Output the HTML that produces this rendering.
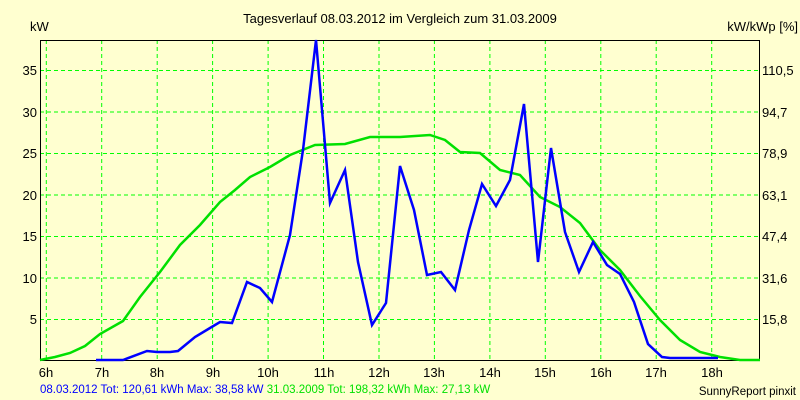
<!DOCTYPE html><html><head><style>body{margin:0;background:#ffffd0}svg{display:block}text{font-family:"Liberation Sans",sans-serif;font-size:13px;fill:#000}</style></head><body>
<svg width="800" height="400" xmlns="http://www.w3.org/2000/svg">
<rect width="800" height="400" fill="#ffffd0"/>
<g stroke="#00ff00" stroke-width="1" stroke-dasharray="4,3">
<line x1="46.3" y1="40" x2="46.3" y2="360"/><line x1="101.7" y1="40" x2="101.7" y2="360"/><line x1="157.2" y1="40" x2="157.2" y2="360"/><line x1="212.6" y1="40" x2="212.6" y2="360"/><line x1="268.1" y1="40" x2="268.1" y2="360"/><line x1="323.5" y1="40" x2="323.5" y2="360"/><line x1="379" y1="40" x2="379" y2="360"/><line x1="434.4" y1="40" x2="434.4" y2="360"/><line x1="489.9" y1="40" x2="489.9" y2="360"/><line x1="545.3" y1="40" x2="545.3" y2="360"/><line x1="600.8" y1="40" x2="600.8" y2="360"/><line x1="656.2" y1="40" x2="656.2" y2="360"/><line x1="711.7" y1="40" x2="711.7" y2="360"/>
<line x1="40" y1="70.5" x2="760" y2="70.5"/><line x1="40" y1="112" x2="760" y2="112"/><line x1="40" y1="153.5" x2="760" y2="153.5"/><line x1="40" y1="195" x2="760" y2="195"/><line x1="40" y1="236.5" x2="760" y2="236.5"/><line x1="40" y1="278" x2="760" y2="278"/><line x1="40" y1="319.5" x2="760" y2="319.5"/>
</g>
<rect x="40.5" y="40.5" width="719" height="320" fill="none" stroke="#000" stroke-width="1"/>
<polyline fill="none" stroke="#00e000" stroke-width="2.5" points="40,360 55,357 70,353 85,346 100,334 123,321 140,297 160,272 180,245 200,225 220,202 235,190 250,177 270,167 290,155 315,145 345,144 370,137 400,137 430,135 445,140 460,152 480,153 500,170 520,175 540,197 560,207 580,223 600,250 620,270 640,296 660,320 680,340 700,352 720,357 740,360 760,360"/>
<polyline fill="none" stroke="#0000ff" stroke-width="2.5" points="96,360 123,360 147,351 157,352 170,352 178,351 195,337 210,328 220,322 232,323 247,282 260,288 272,302 290,235 303,150 316,40 330,203 345,170 358,262 372,325 386,303 400,166 414,210 427,275 441,272 455,290 469,230 482,184 496,206 510,180 524,104 538,262 551,148 565,232 579,272 593,242 607,265 620,274 634,302 648,344 662,357 670,358 718,358"/>
<text x="400" y="23" text-anchor="middle">Tagesverlauf 08.03.2012 im Vergleich zum 31.03.2009</text>
<text x="30" y="31">kW</text>
<text x="798" y="31" text-anchor="end">kW/kWp [%]</text>
<g text-anchor="end"><text x="37" y="75">35</text><text x="37" y="117">30</text><text x="37" y="158">25</text><text x="37" y="200">20</text><text x="37" y="241">15</text><text x="37" y="283">10</text><text x="37" y="324">5</text></g>
<g><text x="762" y="75">110,5</text><text x="762" y="117">94,7</text><text x="762" y="158">78,9</text><text x="762" y="200">63,1</text><text x="762" y="241">47,4</text><text x="762" y="283">31,6</text><text x="762" y="324">15,8</text></g>
<g text-anchor="middle"><text x="46" y="377">6h</text><text x="102" y="377">7h</text><text x="157" y="377">8h</text><text x="213" y="377">9h</text><text x="268" y="377">10h</text><text x="324" y="377">11h</text><text x="379" y="377">12h</text><text x="434" y="377">13h</text><text x="490" y="377">14h</text><text x="545" y="377">15h</text><text x="601" y="377">16h</text><text x="656" y="377">17h</text><text x="712" y="377">18h</text></g>
<text x="40" y="393" style="font-size:11.5px"><tspan fill="#0000ff">08.03.2012 Tot: 120,61 kWh Max: 38,58 kW </tspan><tspan fill="#00e000">31.03.2009 Tot: 198,32 kWh Max: 27,13 kW</tspan></text>
<text x="796" y="395" text-anchor="end" style="font-size:11.5px">SunnyReport pinxit</text>
</svg></body></html>
